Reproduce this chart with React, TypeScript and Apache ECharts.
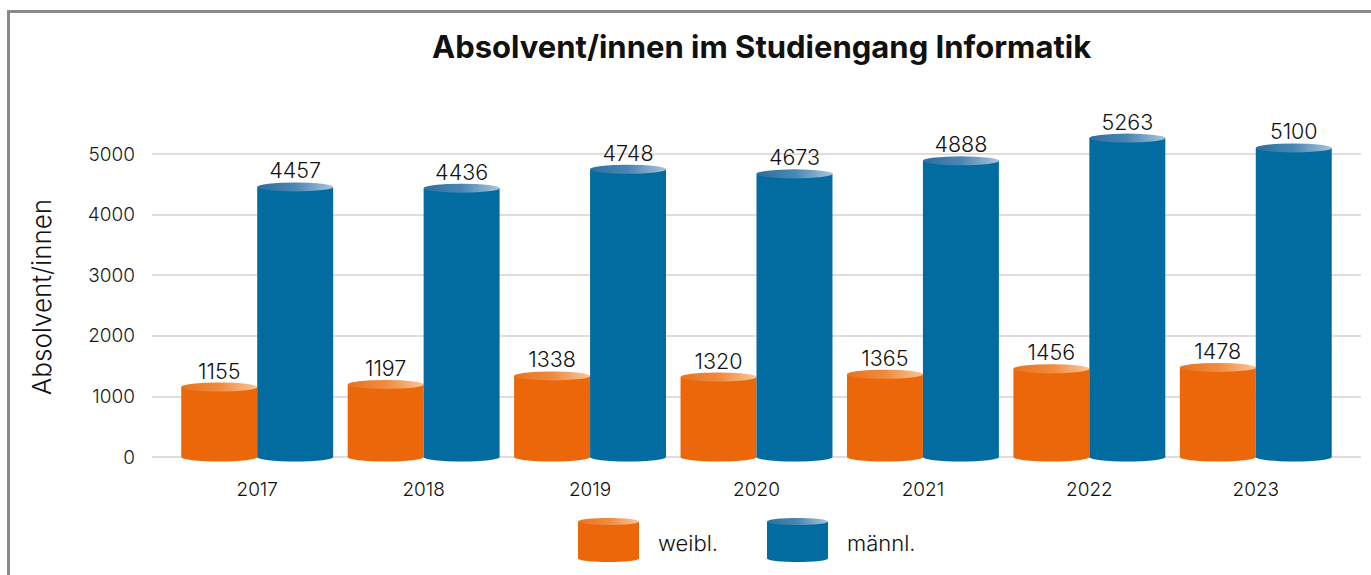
import React, { useEffect, useRef } from "react";
import * as echarts from "echarts";

const categories = ["2017", "2018", "2019", "2020", "2021", "2022", "2023"];
const weibl = [1155, 1197, 1338, 1320, 1365, 1456, 1478];
const maennl = [4457, 4436, 4748, 4673, 4888, 5263, 5100];
const seriesNames = ["weibl.", "männl."];
const yTicks = { min: 0, max: 5000, interval: 1000 };

const COLORS = ["#EC670A", "#026CA0"];
const TOP_GRAD = [
  ["#E9731E", "#F08A3E", "#FAC597"],
  ["#2E6F9E", "#4A86B3", "#A9C4DA"],
];
const FONT = "Inter, 'Noto Sans', sans-serif";
const LIGHT = 300;

function topGradient(i: number) {
  return new echarts.graphic.LinearGradient(0, 0, 1, 0, [
    { offset: 0, color: TOP_GRAD[i][0] },
    { offset: 0.5, color: TOP_GRAD[i][1] },
    { offset: 1, color: TOP_GRAD[i][2] },
  ]);
}

function makeRenderItem(si: number) {
  return (params: any, api: any) => {
    const idx = api.value(0);
    const val = api.value(1);
    const top = api.coord([idx, val]);
    const base = api.coord([idx, 0]);
    const band = api.size([1, 0])[0];
    const w = (band * 76) / 166.5;
    const cx = top[0] + (si === 0 ? -w / 2 : w / 2);
    const x0 = cx - w / 2;
    const x1 = cx + w / 2;
    const rx = w / 2;
    const ry = 4.5;
    const yT = top[1];
    const yB = base[1];
    const body = `M${x0},${yT} L${x0},${yB} A${rx},${ry} 0 0 0 ${x1},${yB} L${x1},${yT} Z`;
    const cap = `M${x0},${yT} A${rx},${ry} 0 1 0 ${x1},${yT} A${rx},${ry} 0 1 0 ${x0},${yT} Z`;
    return {
      type: "group",
      children: [
        { type: "path", shape: { pathData: body }, style: { fill: COLORS[si] } },
        { type: "path", shape: { pathData: cap }, style: { fill: topGradient(si) } },
        {
          type: "text",
          style: {
            text: String(val),
            x: cx,
            y: yT - ry - 1,
            align: "center",
            verticalAlign: "bottom",
            fontSize: 21.5,
            fontWeight: LIGHT,
            fontFamily: FONT,
            fill: "#111",
          },
        },
      ],
    };
  };
}

function legendItem(i: number, x: number, y: number) {
  const w = 61;
  const h = 44;
  const rx = w / 2;
  const ry = 3.5;
  return {
    type: "group",
    x,
    y,
    children: [
      { type: "rect", shape: { x: 0, y: ry, width: w, height: h - 2 * ry }, style: { fill: COLORS[i] } },
      { type: "ellipse", shape: { cx: rx, cy: h - ry, rx, ry }, style: { fill: COLORS[i] } },
      { type: "ellipse", shape: { cx: rx, cy: ry, rx, ry }, style: { fill: topGradient(i) } },
      {
        type: "text",
        x: w + 19,
        y: h / 2 + 3,
        style: {
          text: seriesNames[i],
          fontSize: 22,
          fontWeight: LIGHT,
          fontFamily: FONT,
          fill: "#111",
          verticalAlign: "middle",
        },
      },
    ],
  };
}

export default function App() {
  const ref = useRef<HTMLDivElement>(null);
  useEffect(() => {
    if (!ref.current) return;
    const chart = echarts.init(ref.current, undefined, { renderer: "svg" });
    chart.setOption({
      animation: false,
      backgroundColor: "#ffffff",
      title: {
        text: "Absolvent/innen im Studiengang Informatik",
        left: 427,
        top: 26,
        textStyle: { fontSize: 31, fontWeight: "bold", fontFamily: FONT, color: "#111" },
      },
      grid: [
        { left: 152, right: 10, top: 154, bottom: 118 },
        { left: 174, right: 32, top: 154, bottom: 118 },
      ],
      xAxis: [
        { type: "category", gridIndex: 0, data: categories, show: false },
        {
          type: "category",
          gridIndex: 1,
          data: categories,
          axisLine: { show: false },
          axisTick: { show: false },
          axisLabel: { fontSize: 19, fontWeight: LIGHT, fontFamily: FONT, color: "#111", margin: 23 },
        },
      ],
      yAxis: [
        {
          type: "value",
          gridIndex: 0,
          min: yTicks.min,
          max: yTicks.max,
          interval: yTicks.interval,
          axisLine: { show: false },
          axisTick: { show: false },
          axisLabel: {
            fontSize: 19,
            fontWeight: LIGHT,
            fontFamily: FONT,
            color: "#1a1a1a",
            margin: 17,
            formatter: (v: number) => String(v),
          },
          splitLine: { lineStyle: { color: "#E2DCDC", width: 2 } },
        },
        { type: "value", gridIndex: 1, min: yTicks.min, max: yTicks.max, show: false },
      ],
      series: [
        {
          type: "custom",
          name: seriesNames[0],
          xAxisIndex: 1,
          yAxisIndex: 1,
          clip: false,
          encode: { x: 0, y: 1 },
          data: weibl.map((v, i) => [i, v]),
          renderItem: makeRenderItem(0),
        },
        {
          type: "custom",
          name: seriesNames[1],
          xAxisIndex: 1,
          yAxisIndex: 1,
          clip: false,
          encode: { x: 0, y: 1 },
          data: maennl.map((v, i) => [i, v]),
          renderItem: makeRenderItem(1),
        },
      ],
      graphic: [
        { type: "line", shape: { x1: 8.5, y1: 11.5, x2: 8.5, y2: 575 }, style: { stroke: "#8A8A8A", lineWidth: 3 } },
        { type: "line", shape: { x1: 7, y1: 11.5, x2: 1371, y2: 11.5 }, style: { stroke: "#8A8A8A", lineWidth: 3 } },
        {
          type: "text",
          x: 41,
          y: 297,
          rotation: Math.PI / 2,
          style: {
            text: "Absolvent/innen",
            fontSize: 26,
            fontWeight: LIGHT,
            fontFamily: FONT,
            fill: "#111",
            align: "center",
            verticalAlign: "middle",
          },
        },
        legendItem(0, 578, 518),
        legendItem(1, 767, 518),
      ],
    });
    return () => chart.dispose();
  }, []);
  return (
    <div
      ref={ref}
      style={{ position: "absolute", left: 0, top: 0, width: 1371, height: 575 }}
    />
  );
}
